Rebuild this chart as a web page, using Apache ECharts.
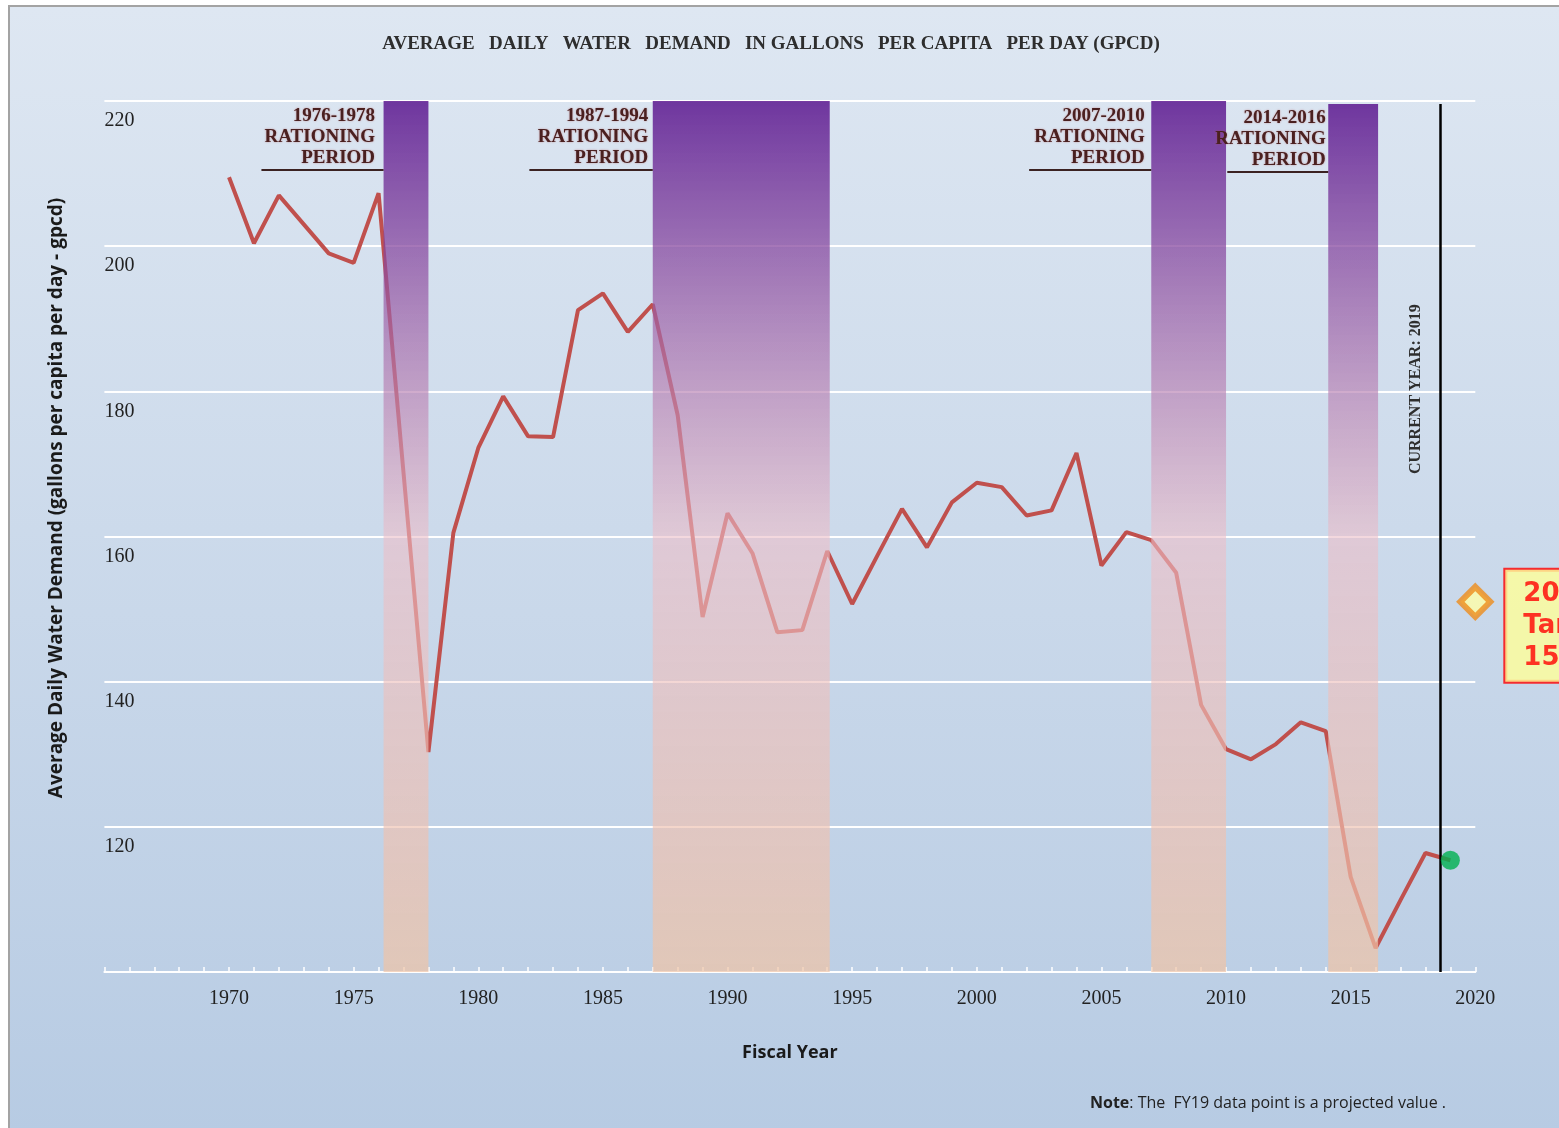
<!DOCTYPE html>
<html>
<head>
<meta charset="utf-8">
<title>Average Daily Water Demand</title>
<script src="https://cdn.jsdelivr.net/npm/echarts@6/dist/echarts.min.js"></script>
<style>
    html, body { margin: 0; padding: 0; background: #ffffff; overflow: hidden; }
    #frame {
        position: absolute; left: 8px; top: 5px; width: 1600px; height: 1200px;
        border: 2px solid #a3a3a3;
        background: linear-gradient(#dee7f2, #b7cbe3 94%);
    }
    #main { position: absolute; left: 0; top: 0; width: 1559px; height: 1128px; }
</style>
</head>
<body>
<div id="frame"></div>
<div id="main"></div>
<script>
    // fiscal years and gpcd
    var years = [1970, 1971, 1972, 1973, 1974, 1975, 1976, 1977, 1978, 1979,
        1980, 1981, 1982, 1983, 1984, 1985, 1986, 1987, 1988, 1989,
        1990, 1991, 1992, 1993, 1994, 1995, 1996, 1997, 1998, 1999,
        2000, 2001, 2002, 2003, 2004, 2005, 2006, 2007, 2008, 2009,
        2010, 2011, 2012, 2013, 2014, 2015, 2016, 2017, 2018, 2019];
    var gpcd = [209.5, 200.4, 207.0, 203.0, 199.0, 197.7, 207.3, 168.8, 130.3, 160.5,
        172.2, 179.3, 173.8, 173.7, 191.2, 193.5, 188.2, 192.0, 176.7, 148.9,
        163.2, 157.7, 146.8, 147.1, 158.0, 150.7, 157.3, 163.8, 158.5, 164.7,
        167.4, 166.8, 162.9, 163.6, 171.5, 156.0, 160.6, 159.5, 155.0, 136.8,
        130.7, 129.3, 131.4, 134.4, 133.2, 113.1, 103.3, 109.9, 116.4, 115.4];

    // FY19 projected point, 2020 target
    var projected = [[2019, 115.4]];
    var target = [[2020, 151]];
    var targetText = '2020\nTarget:\n151';

    // rationing periods
    var bandStart = [1976.2, 1987.0, 2007.0, 2014.1];
    var bandEnd = [1978.0, 1994.1, 2010.0, 2016.1];
    var bandTop = [220, 220, 220, 219.6];
    var bandLabels = ['1976-1978', '1987-1994', '2007-2010', '2014-2016'];

    var currentYear = 2018.6;
    var currentYearText = 'CURRENT YEAR: 2019';

    var serif = '"Liberation Serif", "Times New Roman", serif';
    var sans = '"Open Sans", "Liberation Sans", sans-serif';

    var chart = echarts.init(document.getElementById('main'));

    var bandGradient = new echarts.graphic.LinearGradient(0, 0, 0, 1, [
        {offset: 0, color: 'rgba(80, 5, 135, 0.78)'},
        {offset: 0.5, color: 'rgba(236, 190, 200, 0.6)'},
        {offset: 1, color: 'rgba(240, 195, 165, 0.7)'}
    ]);

    var labelGap = [8, 4, 6, 2];
    var underlineLen = [4.9, 4.95, 4.9, 4.05];

    var option = {
        animation: false,
        grid: {left: 104.4, right: 83.7, top: 101, bottom: 156},
        graphic: [
            {
                type: 'text', x: 771, y: 44, silent: true,
                style: {
                    text: 'AVERAGE   DAILY   WATER   DEMAND   IN GALLONS   PER CAPITA   PER DAY (GPCD)',
                    font: 'bold 19px ' + serif, fill: '#2e2e2e',
                    textAlign: 'center', textVerticalAlign: 'middle'
                }
            },
            {
                type: 'text', x: 57, y: 498, rotation: Math.PI / 2, silent: true,
                style: {
                    text: 'Average Daily Water Demand (gallons per capita per day - gpcd)',
                    font: 'bold 19px ' + sans, fill: '#1a1a1a',
                    textAlign: 'center', textVerticalAlign: 'middle'
                }
            },
            {
                type: 'text', x: 1090, y: 1103, silent: true,
                style: {
                    text: '{b|Note}: The  FY19 data point is a projected value .',
                    font: '16px ' + sans, fill: '#222',
                    textVerticalAlign: 'middle',
                    rich: {b: {fontWeight: 'bold', fontSize: 16, fontFamily: sans, fill: '#222'}}
                }
            }
        ],
        xAxis: {
            type: 'value', min: 1965, max: 2020, interval: 5,
            name: 'Fiscal Year', nameLocation: 'middle', nameGap: 72,
            nameTextStyle: {fontFamily: sans, fontWeight: 'bold', fontSize: 18, color: '#1a1a1a'},
            axisLine: {lineStyle: {color: '#ffffff', width: 2}},
            axisTick: {inside: true, length: 5, lineStyle: {color: '#ffffff', width: 1.5}},
            minorTick: {show: true, splitNumber: 5, length: 5, lineStyle: {color: '#ffffff', width: 1.5}},
            axisLabel: {
                margin: 17, fontFamily: serif, fontSize: 20, color: '#222',
                formatter: function (v) { return v === 1965 ? '' : String(v); }
            },
            splitLine: {show: false}
        },
        yAxis: {
            type: 'value', min: 100, max: 220, interval: 20,
            axisLine: {show: false},
            axisTick: {show: false},
            axisLabel: {
                inside: true, margin: 0, align: 'left', verticalAlign: 'top', padding: [10, 0, 0, 0],
                fontFamily: serif, fontSize: 20, color: '#222',
                formatter: function (v) { return v === 100 ? '' : String(v); }
            },
            splitLine: {lineStyle: {color: '#ffffff', width: 2}}
        },
        series: [
            {
                name: 'GPCD', type: 'line', z: 2, silent: true,
                symbol: 'none',
                data: years.map(function (y, i) { return [y, gpcd[i]]; }),
                lineStyle: {color: '#c0504d', width: 4}
            },
            {
                // 限水期
                name: 'Rationing', type: 'line', z: 5, silent: true, data: [],
                markArea: {
                    silent: true, z: 4,
                    itemStyle: {color: bandGradient},
                    data: bandStart.map(function (s, i) {
                        return [{xAxis: s, yAxis: 100}, {xAxis: bandEnd[i], yAxis: bandTop[i]}];
                    })
                },
                markLine: {
                    silent: true, symbol: 'none',
                    label: {show: false},
                    lineStyle: {color: '#3b2222', width: 2, type: 'solid'},
                    data: bandStart.map(function (s, i) {
                        var y = i === 3 ? 210.2 : 210.5;
                        return [{coord: [s - underlineLen[i], y]}, {coord: [s, y]}];
                    })
                },
                markPoint: {
                    silent: true, symbol: 'rect', symbolSize: 1,
                    itemStyle: {color: 'rgba(0,0,0,0)'},
                    data: bandStart.map(function (s, i) {
                        return {
                            coord: [s, i === 3 ? 214.8 : 215.0],
                            label: {
                                show: true, position: 'left', distance: labelGap[i],
                                formatter: bandLabels[i] + '\nRATIONING\nPERIOD',
                                align: 'right',
                                fontFamily: serif, fontWeight: 'bold', fontSize: 19, lineHeight: 21,
                                color: '#4a2020',
                                textShadowColor: 'rgba(170, 70, 70, 0.55)', textShadowBlur: 2
                            }
                        };
                    })
                }
            },
            {
                name: 'Current year', type: 'line', z: 6, silent: true, data: [],
                markLine: {
                    silent: true, symbol: 'none', z: 6,
                    label: {show: false},
                    lineStyle: {color: '#000000', width: 2.5, type: 'solid'},
                    data: [[{coord: [currentYear, 219.6]}, {coord: [currentYear, 100]}]]
                },
                markPoint: {
                    silent: true, symbol: 'rect', symbolSize: 1,
                    itemStyle: {color: 'rgba(0,0,0,0)'},
                    data: [{
                        coord: [currentYear - 0.97, 180.3],
                        label: {
                            show: true, position: 'inside', rotate: 90,
                            formatter: currentYearText,
                            fontFamily: serif, fontWeight: 'bold', fontSize: 16, color: '#2e2e2e'
                        }
                    }]
                }
            },
            {
                name: 'FY19 projected', type: 'scatter', z: 7, silent: true, clip: false,
                data: projected, symbol: 'circle', symbolSize: 19,
                itemStyle: {color: '#00b050'}
            },
            {
                name: 'Target', type: 'scatter', z: 7, silent: true, clip: false,
                data: target, symbol: 'diamond', symbolSize: 30,
                itemStyle: {color: '#ffffa8', borderColor: '#ee8c1a', borderWidth: 6},
                label: {
                    show: true, position: 'right', distance: 12, offset: [0, 24],
                    formatter: targetText,
                    backgroundColor: '#ffff99', borderColor: '#ff0000', borderWidth: 2,
                    padding: [8, 40, 8, 18],
                    fontFamily: '"DejaVu Sans", sans-serif', fontWeight: 'bold',
                    fontSize: 26, lineHeight: 32, color: '#ff0000'
                }
            }
        ]
    };

    chart.setOption(option);
</script>
</body>
</html>
